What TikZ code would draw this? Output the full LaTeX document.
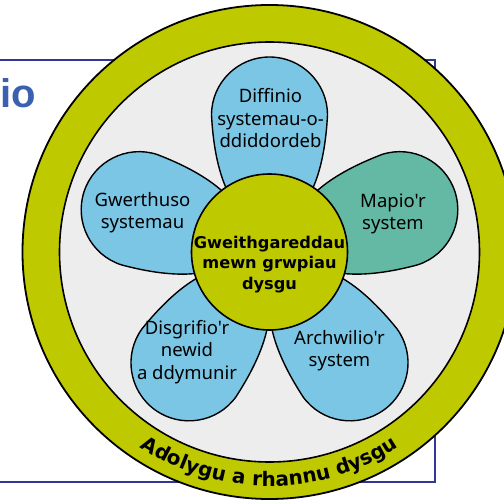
\documentclass[tikz,border=0pt]{standalone}
\usepackage{fontspec}
\newfontfamily\dv{Noto Sans}
\newfontfamily\dvb{DejaVu Sans}
\newfontfamily\arialf{Liberation Sans}
\setmainfont{Noto Sans}
\usetikzlibrary{decorations.text}
\definecolor{myolive}{RGB}{191,201,0}
\definecolor{lgray}{RGB}{237,237,237}
\definecolor{petblue}{RGB}{122,198,228}
\definecolor{petteal}{RGB}{99,185,164}
\definecolor{rectblue}{RGB}{46,58,143}
\definecolor{ioblue}{RGB}{59,96,175}
\begin{document}
\begin{tikzpicture}[x=1pt,y=1pt,
  petal/.style={draw=black,line width=1.4pt},
  ring/.style={draw=black,line width=1.8pt},
  lbl/.style={align=center,font=\dv\fontsize{18.5}{22.5}\selectfont,inner sep=0pt,anchor=base},
  ctr/.style={align=center,font=\dvb\bfseries\fontsize{16.2}{20.5}\selectfont,inner sep=0pt,anchor=base}]
\useasboundingbox (0,0) rectangle (504,499);
\clip (0,0) rectangle (504,499);
\coordinate (C) at (269.5,247);
% background frame
\draw[rectblue,line width=2pt,fill=white] (-10,17) rectangle (435,439);
\node[font=\arialf\bfseries\fontsize{40}{40}\selectfont,text=ioblue,anchor=base east,inner sep=0pt] (io) at (36,391) {io};
% rings
\draw[ring,fill=myolive] (C) circle[radius=247];
\draw[ring,fill=lgray,line width=1.6pt] (C) circle[radius=210];
% petals
\foreach \a/\c in {90/petblue,18/petteal,-54/petblue,-126/petblue,162/petblue}{
  \begin{scope}[shift={(C)},rotate=\a]
    \draw[petal,fill=\c] (20,0) .. controls (35,40) and (80,55) .. (137,58)
      arc[start angle=90,end angle=-90,radius=58]
      .. controls (80,-55) and (35,-40) .. cycle;
  \end{scope}}
% centre
\draw[ring,fill=myolive,line width=1.6pt] (C) circle[radius=78];
% labels (anchor = baseline of last line)
\node[lbl] (t1) at (270.5,351) {Diffinio\\systemau-o-\\ddiddordeb};
\node[lbl] (t2) at (393,269) {Mapio'r\\system};
\node[lbl] (t3) at (339.5,132) {Archwilio'r\\system};
\node[lbl] (t4) at (187,120) {Disgrifio'r\\newid\\a ddymunir};
\node[lbl] (t5) at (142.5,270) {Gwerthuso\\systemau};
\node[ctr] (tc) at (269.5,210) {Gweithgareddau\\mewn grwpiau\\dysgu};
% curved text
\path[decorate,decoration={text along path,text align=center,
  text={|\dvb\bfseries\fontsize{20}{20}\selectfont|Adolygu a rhannu dysgu}}]
  ([shift={(210:234)}]C) arc[start angle=210,end angle=330,radius=234];
\end{tikzpicture}
\end{document}
